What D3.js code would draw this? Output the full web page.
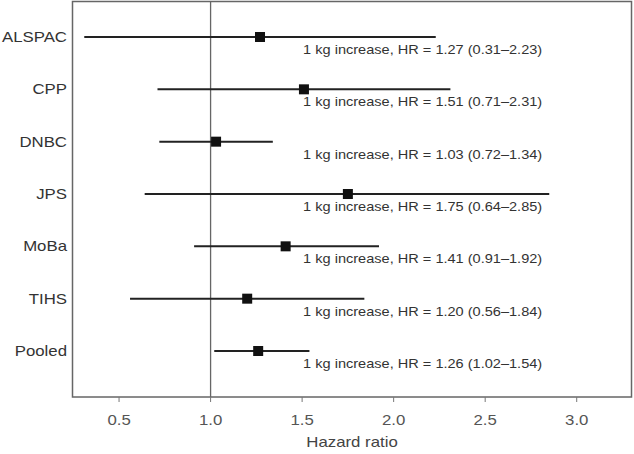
<!DOCTYPE html>
<html>
<head>
<meta charset="utf-8">
<script src="https://cdn.jsdelivr.net/npm/d3@7"></script>
<style>
  body { margin: 0; background: #fff; }
  svg { display: block; font-family: "Liberation Sans", Arial, sans-serif; }
</style>
</head>
<body>
<svg id="chart"></svg>
<script>
var width = 634;
var height = 454;

// study data
var studies = ['ALSPAC', 'CPP', 'DNBC', 'JPS', 'MoBa', 'TIHS', 'Pooled'];
var hr = [1.27, 1.51, 1.03, 1.75, 1.41, 1.20, 1.26];
var lower = [0.31, 0.71, 0.72, 0.64, 0.91, 0.56, 1.02];
var upper = [2.23, 2.31, 1.34, 2.85, 1.92, 1.84, 1.54];
var labels = [
  '1 kg increase, HR = 1.27 (0.31\u20132.23)',
  '1 kg increase, HR = 1.51 (0.71\u20132.31)',
  '1 kg increase, HR = 1.03 (0.72\u20131.34)',
  '1 kg increase, HR = 1.75 (0.64\u20132.85)',
  '1 kg increase, HR = 1.41 (0.91\u20131.92)',
  '1 kg increase, HR = 1.20 (0.56\u20131.84)',
  '1 kg increase, HR = 1.26 (1.02\u20131.54)'
];
var xTicks = [0.5, 1.0, 1.5, 2.0, 2.5, 3.0];

var margin = {top: 1, right: 2, bottom: 56, left: 72};
// the original figure's text is a bit stretched horizontally
var stretch = 1.2;

var svg = d3.select('#chart').attr('width', width).attr('height', height);

var rows = studies.map(function (s, i) {
  return {study: s, hr: hr[i], lo: lower[i], hi: upper[i], label: labels[i]};
});

var x = d3.scaleLinear()
  .domain([0.243, 3.302])
  .range([margin.left, width - margin.right]);

var y = d3.scalePoint()
  .domain(studies)
  .range([37, 351]);

var axisY = height - margin.bottom - 1;

// frame
svg.append('rect')
  .attr('x', margin.left + 0.5)
  .attr('y', margin.top + 0.5)
  .attr('width', width - margin.right - margin.left - 1)
  .attr('height', axisY - margin.top - 0.5)
  .attr('fill', 'none')
  .attr('stroke', '#666')
  .attr('stroke-width', 1.5);

// x axis ticks
svg.selectAll('.tick')
  .data(xTicks)
  .enter().append('line')
  .attr('class', 'tick')
  .attr('x1', function (d) { return x(d); })
  .attr('x2', function (d) { return x(d); })
  .attr('y1', axisY)
  .attr('y2', axisY + 5)
  .attr('stroke', '#777');

svg.selectAll('.tlab')
  .data(xTicks)
  .enter().append('text')
  .attr('class', 'tlab')
  .attr('transform', function (d) { return 'translate(' + x(d) + ',425) scale(' + stretch + ',1)'; })
  .attr('text-anchor', 'middle')
  .attr('fill', '#555')
  .style('font-size', '14px')
  .text(d3.format('.1f'));

svg.append('text')
  .attr('transform', 'translate(' + ((margin.left + width - margin.right) / 2) + ',447) scale(' + stretch + ',1)')
  .attr('text-anchor', 'middle')
  .attr('fill', '#444')
  .style('font-size', '14px')
  .text('Hazard ratio');

// reference line at HR = 1
svg.append('line')
  .attr('x1', x(1)).attr('x2', x(1))
  .attr('y1', margin.top).attr('y2', axisY)
  .attr('stroke', '#666')
  .attr('stroke-width', 1.3);

// study labels
svg.selectAll('.study')
  .data(rows)
  .enter().append('text')
  .attr('class', 'study')
  .attr('transform', function (d) { return 'translate(67,' + (y(d.study) + 5) + ') scale(' + stretch + ',1)'; })
  .attr('text-anchor', 'end')
  .attr('fill', '#333')
  .style('font-size', '14px')
  .text(function (d) { return d.study; });

// confidence intervals
svg.selectAll('.ci')
  .data(rows)
  .enter().append('line')
  .attr('class', 'ci')
  .attr('x1', function (d) { return x(d.lo); })
  .attr('x2', function (d) { return x(d.hi); })
  .attr('y1', function (d) { return y(d.study); })
  .attr('y2', function (d) { return y(d.study); })
  .attr('stroke', '#222')
  .attr('stroke-width', 2);

// point estimates
svg.selectAll('.pt')
  .data(rows)
  .enter().append('rect')
  .attr('class', 'pt')
  .attr('x', function (d) { return x(d.hr) - 5; })
  .attr('y', function (d) { return y(d.study) - 5; })
  .attr('width', 10)
  .attr('height', 10)
  .attr('fill', '#111');

// HR annotations
svg.selectAll('.ann')
  .data(rows)
  .enter().append('text')
  .attr('class', 'ann')
  .attr('transform', function (d) { return 'translate(' + (x(1.5) + 1) + ',' + (y(d.study) + 17) + ') scale(1.12,1)'; })
  .attr('fill', '#333')
  .style('font-size', '13px')
  .text(function (d) { return d.label; });
</script>
</body>
</html>
